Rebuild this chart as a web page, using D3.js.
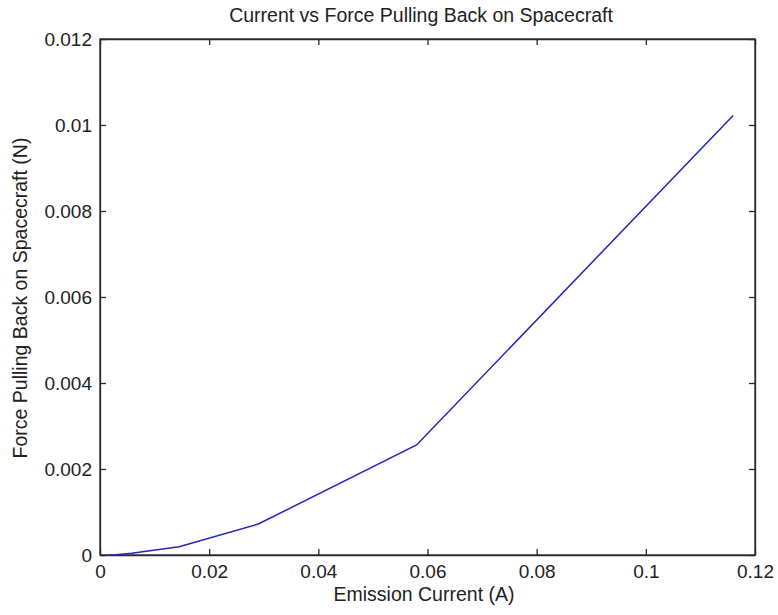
<!DOCTYPE html>
<html>
<head>
<meta charset="utf-8">
<script src="https://cdn.jsdelivr.net/npm/d3@7/dist/d3.min.js"></script>
<style>
  html, body { margin: 0; padding: 0; background: #fff; }
  svg { display: block; }
  text { font-family: "Liberation Sans", Arial, sans-serif; fill: #222; }
</style>
</head>
<body>
<svg id="chart" width="778" height="615"></svg>
<script>
// Emission current (A) and resulting drag force on the spacecraft (N)
const current = [0.00145, 0.0029, 0.0058, 0.0145, 0.029, 0.058, 0.116];
const force   = [0.000002, 0.000008, 0.00004, 0.00019, 0.00072, 0.00256, 0.01022];

const xTicks = [0, 0.02, 0.04, 0.06, 0.08, 0.1, 0.12];
const yTicks = [0, 0.002, 0.004, 0.006, 0.008, 0.01, 0.012];

const titleText = "Current vs Force Pulling Back on Spacecraft";
const xLabel = "Emission Current (A)";
const yLabel = "Force Pulling Back on Spacecraft (N)";

const svg = d3.select("#chart");
const box = { left: 100, right: 755, top: 39, bottom: 555 };

const x = d3.scaleLinear().domain([0, 0.12]).range([box.left, box.right]);
const y = d3.scaleLinear().domain([0, 0.012]).range([box.bottom, box.top]);

const axisColor = "#2a2a2a";
const tickLen = 6;
const tickFont = 19;
const labelFont = 19.5;

// Plot frame
svg.append("rect")
  .attr("x", box.left).attr("y", box.top)
  .attr("width", box.right - box.left).attr("height", box.bottom - box.top)
  .attr("fill", "#fff").attr("stroke", axisColor).attr("stroke-width", 1.3);

const fmt = d => String(+d.toPrecision(6));

// Bottom axis with inward ticks, mirrored on top
const gx = svg.append("g").attr("transform", `translate(0,${box.bottom})`)
  .call(d3.axisBottom(x).tickValues(xTicks).tickSizeInner(-tickLen).tickSizeOuter(0).tickPadding(10).tickFormat(fmt));
const gxTop = svg.append("g").attr("transform", `translate(0,${box.top})`)
  .call(d3.axisTop(x).tickValues(xTicks).tickSizeInner(-tickLen).tickSizeOuter(0).tickFormat(""));

// Left axis with inward ticks, mirrored on the right
const gy = svg.append("g").attr("transform", `translate(${box.left},0)`)
  .call(d3.axisLeft(y).tickValues(yTicks).tickSizeInner(-tickLen).tickSizeOuter(0).tickPadding(8).tickFormat(fmt));
const gyRight = svg.append("g").attr("transform", `translate(${box.right},0)`)
  .call(d3.axisRight(y).tickValues(yTicks).tickSizeInner(-tickLen).tickSizeOuter(0).tickFormat(""));

[gx, gxTop, gy, gyRight].forEach(g => {
  g.select(".domain").attr("stroke", axisColor).attr("stroke-width", 1.3);
  g.selectAll(".tick line").attr("stroke", axisColor).attr("stroke-width", 1.3);
  g.selectAll(".tick text").attr("font-size", tickFont).attr("fill", "#222")
    .attr("font-family", "'Liberation Sans', Arial, sans-serif");
});
gx.selectAll(".tick text").attr("dy", "0.71em");

// Data line
const line = d3.line().x((d, i) => x(current[i])).y(d => y(d));
svg.append("path")
  .datum(force)
  .attr("d", line)
  .attr("fill", "none")
  .attr("stroke", "#2424b8")
  .attr("stroke-width", 1.5);

// Title and axis labels
svg.append("text")
  .attr("x", 421).attr("y", 22)
  .attr("text-anchor", "middle").attr("font-size", labelFont)
  .text(titleText);

svg.append("text")
  .attr("x", 424).attr("y", 601)
  .attr("text-anchor", "middle").attr("font-size", labelFont)
  .text(xLabel);

svg.append("text")
  .attr("transform", `translate(27,298) rotate(-90)`)
  .attr("text-anchor", "middle").attr("font-size", labelFont)
  .text(yLabel);
</script>
</body>
</html>
